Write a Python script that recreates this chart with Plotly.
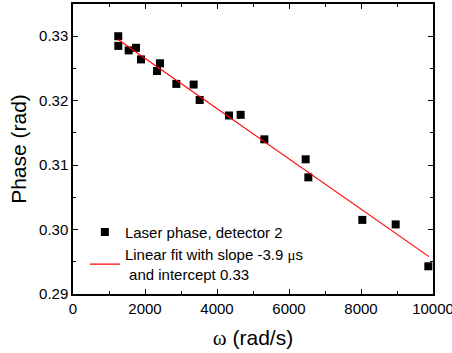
import plotly.graph_objects as go

omega = [1258, 1258, 1547, 1750, 1889, 2333, 2417, 2870, 3352, 3519,
         4333, 4657, 5315, 6463, 6537, 8037, 8963, 9870]
phase = [0.3300, 0.3285, 0.3278, 0.3282, 0.3264, 0.3246, 0.3258, 0.3226,
         0.3225, 0.3201, 0.3177, 0.3178, 0.3140, 0.3109, 0.3081, 0.3015,
         0.3008, 0.2943]
fit_x = [1250, 9890]
fit_y = [0.3295, 0.2958]

xticks = [0, 2000, 4000, 6000, 8000, 10000]
yticks = [0.29, 0.30, 0.31, 0.32, 0.33]
ytick_text = ["0.29", "0.30", "0.31", "0.32", "0.33"]

FONT = "Liberation Sans, Arial, sans-serif"

fig = go.Figure()
fig.add_trace(go.Scatter(
    x=omega, y=phase, mode="markers",
    marker=dict(symbol="square", size=8, color="black"),
    name="Laser phase, detector 2"))
fig.add_trace(go.Scatter(
    x=fit_x, y=fit_y, mode="lines",
    line=dict(color="red", width=1.2),
    name="Linear fit with slope -3.9 <span style='font-family:Liberation Serif'>μ</span>s<br> and intercept 0.33"))

axis_common = dict(
    showline=True, linecolor="black", linewidth=1.5, mirror="ticks",
    ticks="inside", ticklen=5, tickwidth=1, tickcolor="black",
    showgrid=False, zeroline=False, automargin=False,
    ticklabeloverflow="allow",
    tickfont=dict(size=15, color="black", family=FONT),
    minor=dict(ticks="inside", ticklen=3, tickwidth=1, tickcolor="black"),
)

fig.update_xaxes(range=[0, 10000], tickvals=xticks, ticktext=[str(v) for v in xticks],
                 minor_dtick=1000,
                 title=dict(text="<span style='font-family:Liberation Serif'>ω</span> (rad/s)",
                            font=dict(size=21, color="black", family=FONT), standoff=15),
                 **axis_common)
fig.update_yaxes(range=[0.29, 0.335], tickvals=yticks, ticktext=ytick_text,
                 minor_dtick=0.005,
                 title=dict(text="Phase (rad)", font=dict(size=21, color="black", family=FONT),
                            standoff=7),
                 **axis_common)

fig.update_layout(
    width=452, height=353,
    margin=dict(l=73, r=19, t=4, b=59),
    paper_bgcolor="white", plot_bgcolor="white",
    font=dict(family=FONT, color="black"),
    legend=dict(x=0.033, y=0.27, xanchor="left", yanchor="top",
                bgcolor="rgba(0,0,0,0)", font=dict(size=15, color="black", family=FONT),
                tracegroupgap=0),
    showlegend=True,
)

fig.write_html("out.html", config={"displayModeBar": False},
               post_script="document.body.style.margin='0';")
